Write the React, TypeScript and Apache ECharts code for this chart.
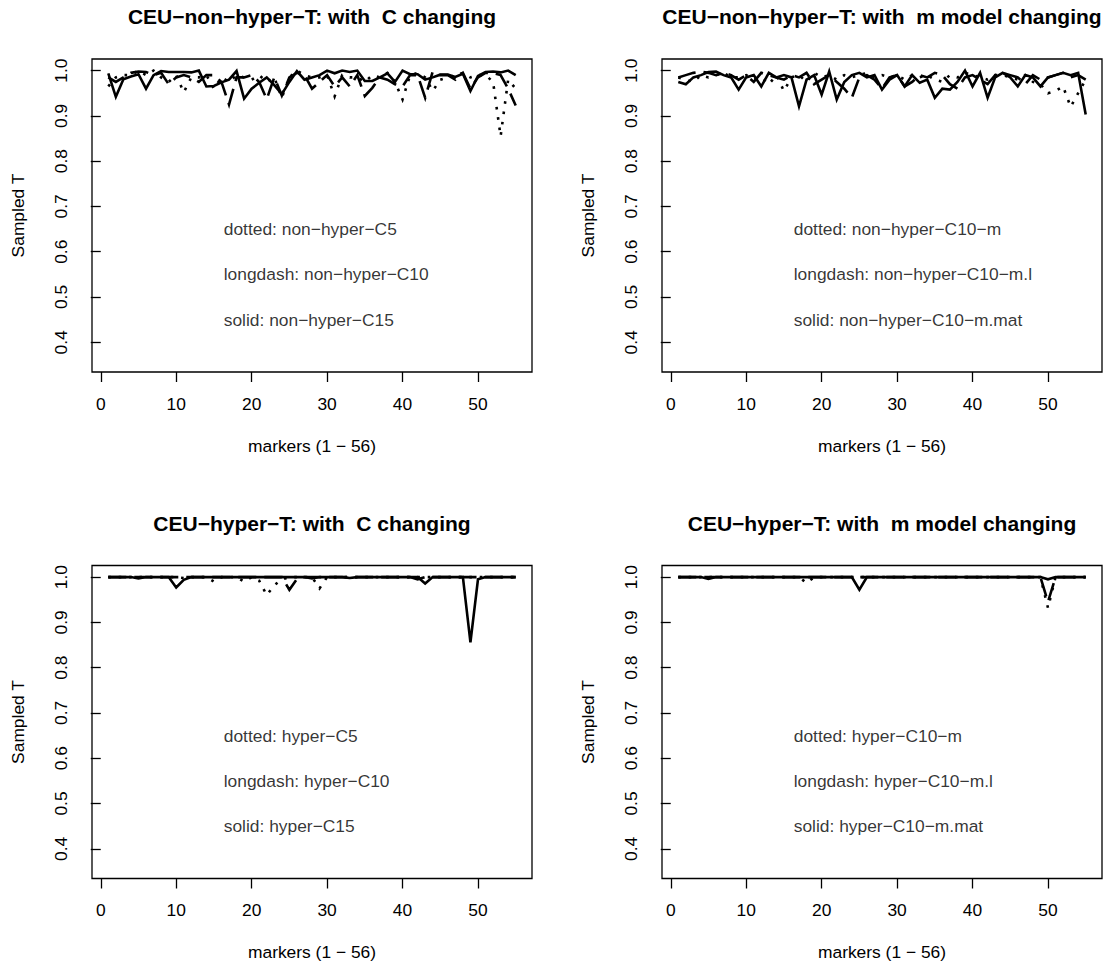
import React, { useEffect, useRef } from "react";
import * as echarts from "echarts";

// Marker index along the x axis
const MARKERS = [
  1, 2, 3, 4, 5, 6, 7, 8, 9, 10, 11, 12, 13, 14, 15, 16, 17, 18, 19, 20,
  21, 22, 23, 24, 25, 26, 27, 28, 29, 30, 31, 32, 33, 34, 35, 36, 37, 38, 39, 40,
  41, 42, 43, 44, 45, 46, 47, 48, 49, 50, 51, 52, 53, 54, 55,
];

const X_TICKS = [0, 10, 20, 30, 40, 50];
const Y_TICKS = [0.4, 0.5, 0.6, 0.7, 0.8, 0.9, 1.0];

// CEU non-hyper-T, C changing
const NONHYPER_C5 = [
  0.965, 0.985, 0.99, 0.99, 1.0, 0.99, 1.0, 0.985, 0.975, 0.99,
  0.952, 0.985, 0.985, 0.99, 0.96, 0.985, 0.975, 0.99, 0.985, 0.98,
  0.99, 0.975, 0.985, 0.94, 0.985, 1.0, 0.99, 0.985, 0.985, 0.99,
  0.943, 0.99, 0.985, 0.985, 0.975, 0.99, 0.985, 0.995, 0.975, 0.936,
  0.99, 0.995, 0.985, 0.955, 0.98, 0.985, 0.99, 0.995, 0.985, 0.99,
  0.99, 0.975, 0.855, 0.98, 0.96,
];
const NONHYPER_C10 = [
  0.985, 0.975, 0.985, 0.995, 0.998, 0.997, 0.99, 0.995, 0.97, 0.985,
  0.99, 0.985, 0.975, 0.99, 0.99, 0.975, 0.925, 0.985, 0.985, 0.99,
  0.975, 0.937, 0.985, 0.945, 0.985, 0.995, 0.99, 0.96, 0.975, 0.99,
  0.965, 0.985, 0.965, 0.99, 0.944, 0.962, 0.985, 0.98, 0.97, 0.965,
  0.99, 0.99, 0.94, 0.998, 0.99, 0.99, 0.98, 0.995, 0.96, 0.985,
  0.995, 0.995, 0.99, 0.96, 0.923,
];
const NONHYPER_C15 = [
  0.994, 0.942, 0.981, 0.987, 0.992, 0.96, 0.99, 0.999, 0.997, 0.997,
  0.997, 0.996, 1.0, 0.965, 0.966, 0.974, 0.98, 0.999, 0.938, 0.96,
  0.973, 0.985, 0.968, 0.948, 0.975, 0.999, 0.98, 0.985, 0.99, 1.0,
  0.994, 1.0, 0.997, 1.0, 0.977, 0.977, 0.985, 0.994, 0.975, 1.0,
  0.992, 0.992, 0.98, 0.985, 0.991, 0.991, 0.986, 0.993, 0.955, 0.988,
  0.997, 0.998, 0.996, 1.0, 0.99,
];

// CEU non-hyper-T, m model changing
const NONHYPER_C10_M = [
  0.985, 0.98, 0.975, 0.99, 0.985, 0.99, 0.995, 0.985, 0.985, 0.99,
  0.98, 0.985, 0.97, 0.99, 0.955, 0.985, 0.99, 0.975, 0.995, 0.985,
  0.99, 0.98, 0.99, 0.985, 0.99, 0.995, 0.985, 0.99, 0.985, 0.99,
  0.98, 0.99, 0.985, 0.99, 0.98, 0.975, 0.99, 0.985, 0.995, 0.99,
  0.985, 0.98, 0.99, 0.99, 0.985, 0.98, 0.99, 0.975, 0.97, 0.95,
  0.955, 0.965, 0.92, 0.95, 0.98,
];
const NONHYPER_C10_ML = [
  0.985, 0.99, 0.995, 0.998, 0.995, 0.99, 0.995, 0.99, 0.98, 0.99,
  0.975, 0.995, 0.99, 0.985, 0.98, 0.99, 0.985, 0.995, 0.97, 0.98,
  0.99, 0.975, 0.96, 0.94, 0.985, 0.99, 0.98, 0.96, 0.985, 0.99,
  0.965, 0.975, 0.99, 0.985, 0.995, 0.99, 0.97, 0.96, 0.985, 0.99,
  0.98, 0.97, 0.99, 0.995, 0.99, 0.985, 0.97, 0.99, 0.98, 0.985,
  0.99, 0.995, 0.985, 0.99, 0.98,
];
const NONHYPER_C10_MMAT = [
  0.975, 0.97, 0.985, 0.99, 0.997, 0.998, 0.99, 0.985, 0.958, 0.985,
  0.99, 0.965, 0.995, 0.985, 0.99, 0.985, 0.921, 0.98, 0.99, 0.947,
  0.998, 0.936, 0.975, 0.99, 0.995, 0.985, 0.99, 0.958, 0.98, 0.99,
  0.965, 0.99, 0.973, 0.98, 0.94, 0.96, 0.958, 0.975, 1.0, 0.965,
  0.995, 0.94, 0.985, 0.995, 0.985, 0.965, 0.99, 0.985, 0.965, 0.985,
  0.99, 0.995, 0.99, 0.995, 0.903,
];

// CEU hyper-T, C changing
const HYPER_C5 = [
  1.0, 1.0, 1.0, 1.0, 1.0, 1.0, 1.0, 1.0, 1.0, 1.0,
  0.998, 1.0, 1.0, 1.0, 0.99, 1.0, 1.0, 1.0, 0.99, 1.0,
  0.992, 0.96, 0.982, 0.995, 1.0, 1.0, 1.0, 1.0, 0.975, 1.0,
  1.0, 1.0, 1.0, 1.0, 1.0, 1.0, 1.0, 1.0, 1.0, 1.0,
  1.0, 1.0, 1.0, 1.0, 1.0, 1.0, 1.0, 1.0, 1.0, 1.0,
  1.0, 1.0, 1.0, 1.0, 1.0,
];
const HYPER_C10 = [
  1.0, 1.0, 1.0, 1.0, 1.0, 1.0, 1.0, 1.0, 1.0, 1.0,
  1.0, 1.0, 1.0, 1.0, 1.0, 1.0, 1.0, 1.0, 1.0, 1.0,
  1.0, 1.0, 1.0, 1.0, 0.972, 0.996, 1.0, 1.0, 1.0, 1.0,
  1.0, 1.0, 1.0, 1.0, 1.0, 1.0, 1.0, 1.0, 1.0, 1.0,
  1.0, 0.995, 1.0, 1.0, 1.0, 1.0, 1.0, 1.0, 1.0, 1.0,
  1.0, 1.0, 1.0, 1.0, 1.0,
];
const HYPER_C15 = [
  1.0, 1.0, 1.0, 1.0, 0.997, 1.0, 1.0, 1.0, 1.0, 0.977,
  0.994, 1.0, 1.0, 1.0, 1.0, 1.0, 1.0, 1.0, 1.0, 1.0,
  1.0, 1.0, 1.0, 1.0, 1.0, 1.0, 1.0, 0.997, 1.0, 1.0,
  1.0, 1.0, 0.998, 1.0, 1.0, 1.0, 1.0, 1.0, 1.0, 1.0,
  1.0, 1.0, 0.986, 1.0, 1.0, 1.0, 1.0, 1.0, 0.856, 0.995,
  1.0, 1.0, 1.0, 1.0, 1.0,
];

// CEU hyper-T, m model changing
const HYPER_C10_M = [
  1.0, 1.0, 1.0, 1.0, 1.0, 1.0, 1.0, 1.0, 1.0, 1.0,
  1.0, 1.0, 1.0, 1.0, 1.0, 1.0, 1.0, 0.987, 1.0, 1.0,
  1.0, 1.0, 1.0, 1.0, 1.0, 1.0, 1.0, 1.0, 1.0, 1.0,
  1.0, 1.0, 1.0, 1.0, 1.0, 1.0, 1.0, 1.0, 1.0, 1.0,
  1.0, 1.0, 1.0, 1.0, 1.0, 1.0, 1.0, 1.0, 1.0, 0.932,
  1.0, 1.0, 1.0, 1.0, 1.0,
];
const HYPER_C10_ML = [
  1.0, 1.0, 1.0, 1.0, 1.0, 1.0, 1.0, 1.0, 1.0, 1.0,
  1.0, 1.0, 1.0, 1.0, 1.0, 1.0, 1.0, 1.0, 1.0, 1.0,
  1.0, 1.0, 1.0, 1.0, 1.0, 1.0, 1.0, 1.0, 1.0, 1.0,
  1.0, 1.0, 1.0, 1.0, 1.0, 1.0, 1.0, 1.0, 1.0, 1.0,
  1.0, 1.0, 1.0, 1.0, 1.0, 1.0, 1.0, 1.0, 1.0, 0.945,
  1.0, 1.0, 1.0, 1.0, 1.0,
];
const HYPER_C10_MMAT = [
  1.0, 1.0, 1.0, 1.0, 0.996, 1.0, 1.0, 1.0, 1.0, 1.0,
  1.0, 1.0, 1.0, 1.0, 1.0, 1.0, 1.0, 1.0, 1.0, 1.0,
  1.0, 1.0, 1.0, 1.0, 0.972, 1.0, 1.0, 1.0, 1.0, 1.0,
  1.0, 1.0, 1.0, 1.0, 1.0, 1.0, 1.0, 1.0, 1.0, 1.0,
  1.0, 1.0, 1.0, 1.0, 1.0, 1.0, 1.0, 1.0, 1.0, 0.995,
  1.0, 1.0, 1.0, 1.0, 1.0,
];

const TITLES = [
  "CEU\u2212non\u2212hyper\u2212T: with  C changing",
  "CEU\u2212non\u2212hyper\u2212T: with  m model changing",
  "CEU\u2212hyper\u2212T: with  C changing",
  "CEU\u2212hyper\u2212T: with  m model changing",
];

const KEY_LABELS = [
  ["dotted: non\u2212hyper\u2212C5", "longdash: non\u2212hyper\u2212C10", "solid: non\u2212hyper\u2212C15"],
  ["dotted: non\u2212hyper\u2212C10\u2212m", "longdash: non\u2212hyper\u2212C10\u2212m.l", "solid: non\u2212hyper\u2212C10\u2212m.mat"],
  ["dotted: hyper\u2212C5", "longdash: hyper\u2212C10", "solid: hyper\u2212C15"],
  ["dotted: hyper\u2212C10\u2212m", "longdash: hyper\u2212C10\u2212m.l", "solid: hyper\u2212C10\u2212m.mat"],
];

const PANEL_SERIES = [
  [NONHYPER_C5, NONHYPER_C10, NONHYPER_C15],
  [NONHYPER_C10_M, NONHYPER_C10_ML, NONHYPER_C10_MMAT],
  [HYPER_C5, HYPER_C10, HYPER_C15],
  [HYPER_C10_M, HYPER_C10_ML, HYPER_C10_MMAT],
];

// key text anchor (data coordinates) and y positions of the three key lines
const KEY_X = 16.3;
const KEY_Y = [0.65, 0.55, 0.45];

const FONT = "'Liberation Sans', Arial, Helvetica, sans-serif";
const W = 1106;
const H = 969;

// plot box layout
const BOX_LEFT = 92;
const BOX_TOP = 59;
const BOX_W = 440;
const BOX_H = 313;
const COL_STEP = 570;
const ROW_STEP = 506.5;

const X_MIN = -1.16;
const X_MAX = 57.16;
const Y_MIN = 0.3344;
const Y_MAX = 1.0256;

const LINE_TYPES: any[] = [[2.6, 7.8], [18, 8], "solid"];

function buildOption() {
  const grid: any[] = [];
  const xAxis: any[] = [];
  const yAxis: any[] = [];
  const series: any[] = [];
  const title: any[] = [];

  for (let p = 0; p < 4; p++) {
    const col = p % 2;
    const row = Math.floor(p / 2);
    const left = BOX_LEFT + col * COL_STEP;
    const top = BOX_TOP + row * ROW_STEP;

    grid.push({
      left,
      top,
      width: BOX_W,
      height: BOX_H,
      show: true,
      borderColor: "#000",
      borderWidth: 1.3,
      backgroundColor: "transparent",
    });

    xAxis.push({
      type: "value",
      gridIndex: p,
      min: X_MIN,
      max: X_MAX,
      name: "markers (1 \u2212 56)",
      nameLocation: "middle",
      nameGap: 65,
      nameTextStyle: { fontFamily: FONT, fontSize: 17.4, color: "#000" },
      axisLine: { show: false },
      axisTick: {
        show: true,
        inside: false,
        length: 10,
        customValues: X_TICKS,
        lineStyle: { color: "#000", width: 1.3 },
      },
      axisLabel: {
        show: true,
        customValues: X_TICKS,
        margin: 23,
        fontFamily: FONT,
        fontSize: 17.4,
        color: "#000",
        formatter: (v: number) => String(v),
      },
      splitLine: { show: false },
    });

    yAxis.push({
      type: "value",
      gridIndex: p,
      min: Y_MIN,
      max: Y_MAX,
      name: "Sampled T",
      nameLocation: "middle",
      nameGap: 66,
      nameTextStyle: { fontFamily: FONT, fontSize: 17.4, color: "#000" },
      axisLine: { show: false },
      axisTick: {
        show: true,
        inside: false,
        length: 10,
        customValues: Y_TICKS,
        lineStyle: { color: "#000", width: 1.3 },
      },
      axisLabel: {
        show: true,
        customValues: Y_TICKS,
        rotate: 90,
        margin: 23,
        fontFamily: FONT,
        fontSize: 17.4,
        color: "#000",
        formatter: (v: number) => v.toFixed(1),
      },
      splitLine: { show: false },
    });

    title.push({
      text: TITLES[p],
      left: left + BOX_W / 2,
      top: 6 + row * ROW_STEP,
      textAlign: "center",
      padding: 0,
      textStyle: {
        fontFamily: FONT,
        fontSize: 21,
        fontWeight: "bold",
        color: "#000",
      },
    });

    PANEL_SERIES[p].forEach((vals, k) => {
      series.push({
        type: "line",
        xAxisIndex: p,
        yAxisIndex: p,
        symbol: "none",
        silent: true,
        lineStyle: {
          color: "#000",
          width: 2.6,
          type: LINE_TYPES[k],
          cap: "butt",
          join: "miter",
        },
        data: MARKERS.map((m, j) => [m, vals[j]]),
      });
    });

    // key texts placed through the panel's own scale
    KEY_LABELS[p].forEach((label, k) => {
      series.push({
        type: "scatter",
        xAxisIndex: p,
        yAxisIndex: p,
        symbolSize: 0,
        silent: true,
        data: [[KEY_X, KEY_Y[k]]],
        label: {
          show: true,
          position: "right",
          distance: 0,
          formatter: label,
          fontFamily: FONT,
          fontSize: 17.4,
          color: "#000",
          textBorderWidth: 0,
        },
      });
    });
  }

  return {
    animation: false,
    backgroundColor: "#fff",
    title,
    grid,
    xAxis,
    yAxis,
    series,
  };
}

export default function App() {
  const ref = useRef<HTMLDivElement>(null);

  useEffect(() => {
    document.body.style.margin = "0";
    if (!ref.current) return;
    const chart = echarts.init(ref.current, undefined, { renderer: "svg" });
    chart.setOption(buildOption() as any);
    return () => {
      chart.dispose();
    };
  }, []);

  return <div ref={ref} style={{ width: W, height: H }} />;
}
